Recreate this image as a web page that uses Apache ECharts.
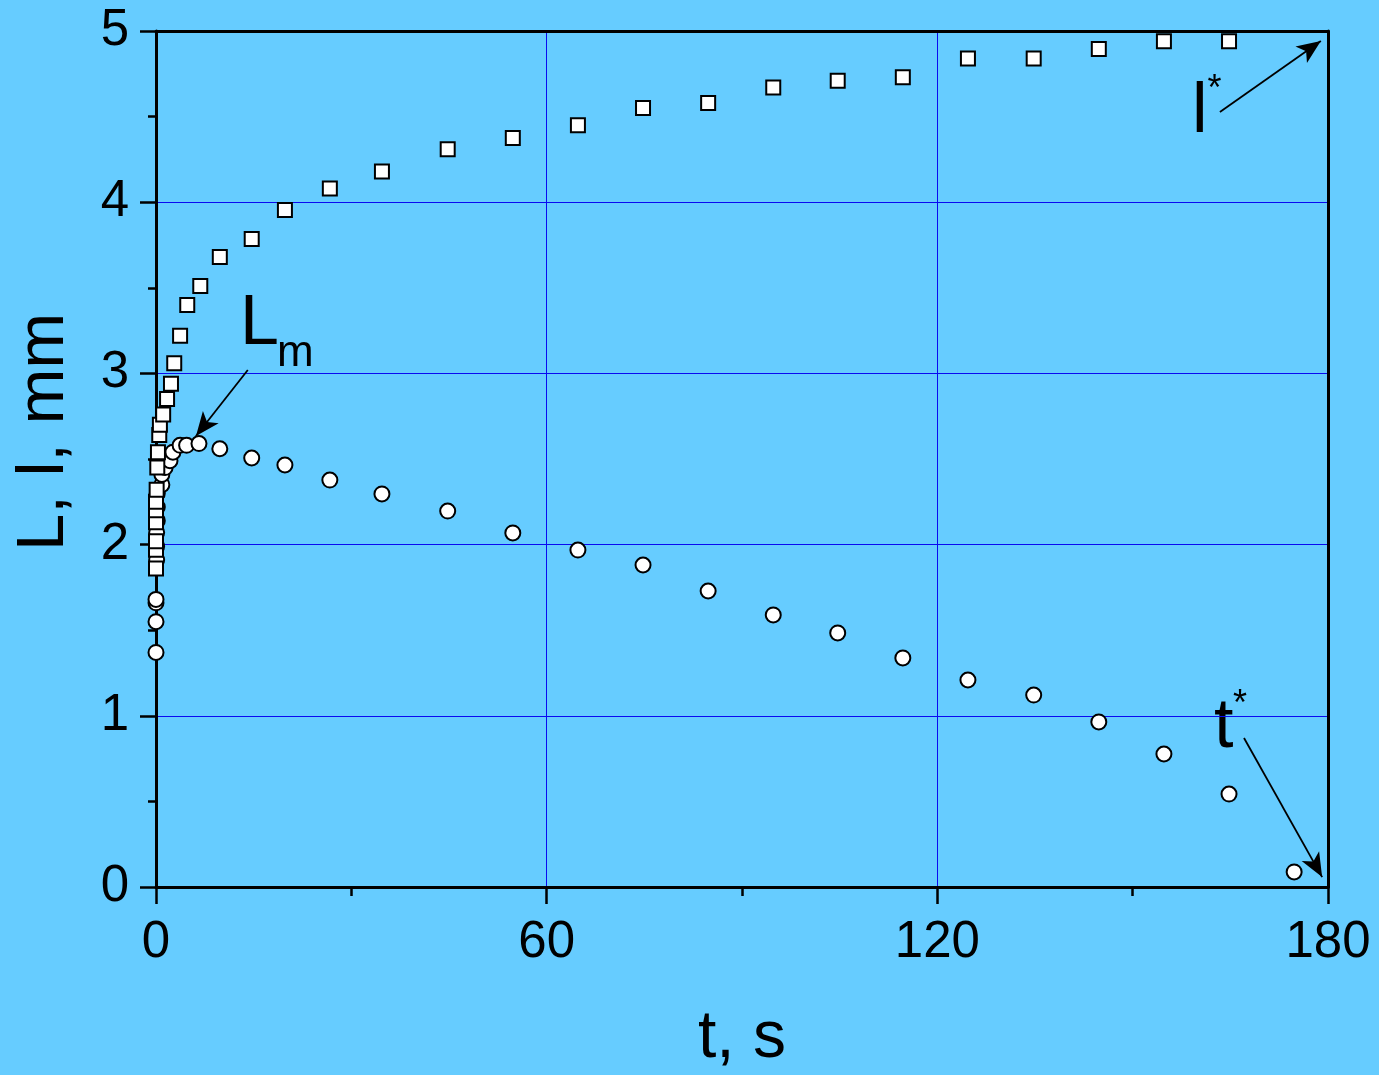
<!DOCTYPE html>
<html>
<head>
<meta charset="utf-8">
<script src="https://cdn.jsdelivr.net/npm/echarts@6/dist/echarts.min.js"></script>
<style>
html,body{margin:0;padding:0;background:#66ccff;}
#chart{width:1379px;height:1075px;}
</style>
</head>
<body>
<div id="chart"></div>
<script>
// t, s and l (mm) for squares
const lTime = [0, 0, 0, 0, 0, 0, 0.1, 0.2, 0.3, 0.5, 0.6, 1.1, 1.7, 2.3, 2.8, 3.7, 4.8, 6.8, 9.8, 14.7, 19.8, 26.7, 34.7, 44.8, 54.8, 64.8, 74.8, 84.8, 94.8, 104.7, 114.7, 124.7, 134.8, 144.8, 154.8, 164.8];
const lValues = [1.86, 1.97, 2.02, 2.13, 2.20, 2.25, 2.32, 2.45, 2.54, 2.64, 2.70, 2.76, 2.85, 2.94, 3.06, 3.22, 3.40, 3.51, 3.68, 3.785, 3.955, 4.08, 4.18, 4.31, 4.375, 4.45, 4.55, 4.58, 4.67, 4.71, 4.73, 4.84, 4.84, 4.895, 4.94, 4.94];
// t, s and L (mm) for circles
const LTime = [0, 0, 0, 0, 0.1, 0.1, 0.1, 0.2, 0.2, 0.2, 0.9, 0.9, 1.4, 2.15, 2.6, 3.7, 4.7, 6.6, 9.8, 14.7, 19.8, 26.7, 34.7, 44.8, 54.8, 64.8, 74.8, 84.8, 94.8, 104.7, 114.7, 124.7, 134.8, 144.8, 154.8, 164.8, 174.8];
const LValues = [1.37, 1.55, 1.66, 1.68, 1.91, 1.99, 2.07, 2.14, 2.22, 2.30, 2.35, 2.41, 2.45, 2.49, 2.54, 2.58, 2.58, 2.59, 2.56, 2.506, 2.465, 2.377, 2.296, 2.196, 2.068, 1.968, 1.881, 1.729, 1.589, 1.484, 1.338, 1.209, 1.121, 0.964, 0.777, 0.543, 0.088];
// annotation arrows (data coords): [startT, startV, endT, endV]
const arrowLm = [14.1, 3.02, 6.14, 2.634];
const arrowL = [163.4, 4.527, 178.9, 4.942];
const arrowT = [167.1, 0.870, 179.1, 0.058];

const FONT = '"Liberation Sans", Arial, Helvetica, sans-serif';
const chart = echarts.init(document.getElementById('chart'), null, {renderer: 'canvas'});

function pairs(xs, ys) { return xs.map((x, i) => [x, ys[i]]); }
function arrow(a) { return [{coord: [a[0], a[1]]}, {coord: [a[2], a[3]]}]; }

const option = {
  backgroundColor: '#66ccff',
  animation: false,
  grid: {left: 156, right: 51, top: 31, bottom: 188, containLabel: false, outerBoundsMode: 'none'},
  xAxis: [{
    type: 'value', min: 0, max: 180, interval: 60,
    axisLine: {show: true, onZero: false, lineStyle: {color: '#000', width: 3}},
    axisTick: {show: true, inside: false, length: 17, lineStyle: {color: '#000', width: 2.5}},
    minorTick: {show: true, splitNumber: 2, length: 9, lineStyle: {color: '#000', width: 2.5}},
    axisLabel: {color: '#000', fontSize: 51, fontFamily: FONT, margin: 30},
    splitLine: {show: true, showMinLine: false, showMaxLine: false, lineStyle: {color: '#0a0af0', width: 1}},
    name: 't, s', nameLocation: 'middle', nameGap: 119,
    nameTextStyle: {color: '#000', fontSize: 66, fontFamily: FONT}
  }, {
    type: 'value', min: 0, max: 180, interval: 60, position: 'top',
    axisLine: {show: true, onZero: false, lineStyle: {color: '#000', width: 3}},
    axisTick: {show: false}, axisLabel: {show: false}, splitLine: {show: false}
  }],
  yAxis: [{
    type: 'value', min: 0, max: 5, interval: 1,
    axisLine: {show: true, onZero: false, lineStyle: {color: '#000', width: 3}},
    axisTick: {show: true, inside: false, length: 16, lineStyle: {color: '#000', width: 2.5}},
    minorTick: {show: true, splitNumber: 2, length: 8, lineStyle: {color: '#000', width: 2.5}},
    axisLabel: {color: '#000', fontSize: 51, fontFamily: FONT, margin: 27},
    splitLine: {show: true, showMinLine: false, showMaxLine: false, lineStyle: {color: '#0a0af0', width: 1}}
  }, {
    type: 'value', min: 0, max: 5, interval: 1, position: 'right',
    axisLine: {show: true, onZero: false, lineStyle: {color: '#000', width: 3}},
    axisTick: {show: false}, axisLabel: {show: false}, splitLine: {show: false}
  }],
  series: [{
    type: 'scatter', name: 'L', xAxisIndex: 0, yAxisIndex: 0, clip: false,
    symbol: 'circle', symbolSize: 15,
    itemStyle: {color: '#fff', borderColor: '#000', borderWidth: 2, opacity: 1},
    data: pairs(LTime, LValues),
    markLine: {
      silent: true, symbol: ['none', 'arrow'], symbolSize: [15, 24],
      lineStyle: {color: '#000', width: 1.8, type: 'solid'},
      label: {show: false},
      data: [arrow(arrowLm), arrow(arrowL), arrow(arrowT)]
    }
  }, {
    type: 'scatter', name: 'l', xAxisIndex: 0, yAxisIndex: 0, clip: false,
    symbol: 'rect', symbolSize: 14,
    itemStyle: {color: '#fff', borderColor: '#000', borderWidth: 2, opacity: 1},
    data: pairs(lTime, lValues)
  }],
  graphic: [
    {type: 'text', x: 45, y: 432, rotation: Math.PI / 2,
     style: {text: 'L, l, mm', fill: '#000', font: '67px ' + FONT, align: 'center', verticalAlign: 'middle'}},
    {type: 'text', x: 240, y: 325,
     style: {text: 'L', fill: '#000', font: '70px ' + FONT, align: 'left', verticalAlign: 'middle'}},
    {type: 'text', x: 277, y: 354,
     style: {text: 'm', fill: '#000', font: '44px ' + FONT, align: 'left', verticalAlign: 'middle'}},
    {type: 'text', x: 1192, y: 113,
     style: {text: 'l', fill: '#000', font: '70px ' + FONT, align: 'left', verticalAlign: 'middle'}},
    {type: 'text', x: 1214.5, y: 90,
     style: {text: '*', fill: '#000', font: '36px ' + FONT, align: 'center', verticalAlign: 'middle'}},
    {type: 'text', x: 1214, y: 728,
     style: {text: 't', fill: '#000', font: '70px ' + FONT, align: 'left', verticalAlign: 'middle'}},
    {type: 'text', x: 1240, y: 705,
     style: {text: '*', fill: '#000', font: '36px ' + FONT, align: 'center', verticalAlign: 'middle'}}
  ]
};
chart.setOption(option);
</script>
</body>
</html>
